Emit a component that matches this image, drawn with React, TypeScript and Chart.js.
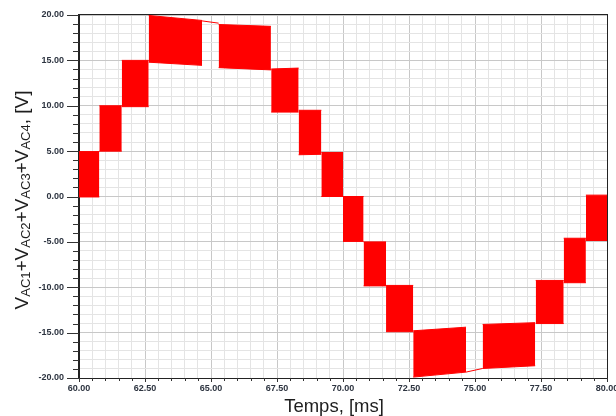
import React, { useEffect, useRef } from 'react';
import { Chart, registerables } from 'chart.js';

Chart.register(...registerables);

// Switching blocks (time in ms, voltage in V): each block switches between a low and a high level
const blockStart = [60.0, 60.77, 61.62, 62.64, 65.29, 67.28, 68.32, 69.18, 70.0, 70.78, 71.63, 72.66, 75.29, 77.3, 78.36, 79.2];
const blockEnd = [60.77, 61.62, 62.64, 64.66, 67.27, 68.32, 69.18, 70.0, 70.78, 71.63, 72.66, 74.66, 77.28, 78.36, 79.2, 80.0];
const blockLowStart = [-0.05, 5.0, 9.9, 14.8, 14.2, 9.3, 4.6, 0.0, -4.95, -9.85, -14.9, -19.9, -18.95, -14.0, -9.5, -4.85];
const blockLowEnd = [-0.05, 5.0, 9.9, 14.45, 13.95, 9.3, 4.65, 0.0, -4.95, -9.85, -14.9, -19.35, -18.65, -14.0, -9.5, -4.85];
const blockHighStart = [4.95, 10.0, 15.0, 19.95, 18.95, 14.05, 9.5, 4.85, 0.0, -5.0, -9.8, -14.8, -14.1, -9.25, -4.6, 0.15];
const blockHighEnd = [4.95, 10.0, 15.0, 19.4, 18.75, 14.15, 9.5, 4.85, 0.0, -5.0, -9.8, -14.4, -13.9, -9.25, -4.6, 0.15];

// Constant-level (no switching) segments between the peak blocks
const holdStart = [64.66, 74.66];
const holdEnd = [65.29, 75.29];
const holdLevelStart = [19.35, -19.35];
const holdLevelEnd = [19.1, -18.95];

// Axis ranges and ticks
const xMin = 60, xMax = 80, xMinorStep = 0.5, xMajorStep = 2.5;
const yMin = -20, yMax = 20, yMinorStep = 1, yMajorStep = 5;

const xTitle = 'Temps, [ms]';
const yTitleParts: { text: string; sub: boolean }[] = [
  { text: 'V', sub: false }, { text: 'AC1', sub: true }, { text: '+', sub: false },
  { text: 'V', sub: false }, { text: 'AC2', sub: true }, { text: '+', sub: false },
  { text: 'V', sub: false }, { text: 'AC3', sub: true }, { text: '+', sub: false },
  { text: 'V', sub: false }, { text: 'AC4', sub: true }, { text: ', [V]', sub: false },
];

const RED = '#ff0000';
const FONT = '"Liberation Sans", Arial, sans-serif';

const isMult = (v: number, step: number) => Math.abs(v / step - Math.round(v / step)) < 1e-6;

const decorPlugin = {
  id: 'decor',
  afterDraw(chart: any) {
    const { ctx, chartArea } = chart;
    const { left, right, top, bottom } = chartArea;
    ctx.save();
    // frame
    ctx.strokeStyle = '#222';
    ctx.lineWidth = 1;
    ctx.strokeRect(Math.round(left) - 0.5, Math.round(top) - 0.5, Math.round(right) - Math.round(left) + 1, Math.round(bottom) - Math.round(top) + 1);
    // y tick marks
    const ys = chart.scales.y;
    ctx.beginPath();
    for (const t of ys.ticks) {
      const py = Math.round(ys.getPixelForValue(t.value)) + 0.5;
      const len = isMult(t.value, yMajorStep) ? 12 : 6;
      ctx.moveTo(Math.round(left) - len, py);
      ctx.lineTo(Math.round(left), py);
    }
    // x tick marks
    const xs = chart.scales.x;
    for (const t of xs.ticks) {
      const px = Math.round(xs.getPixelForValue(t.value)) + 0.5;
      const len = isMult(t.value, xMajorStep) ? 4 : 3;
      ctx.moveTo(px, Math.round(bottom));
      ctx.lineTo(px, Math.round(bottom) + len);
    }
    ctx.strokeStyle = '#333';
    ctx.stroke();

    // x title
    ctx.fillStyle = '#1e1e1e';
    ctx.font = `18.5px ${FONT}`;
    ctx.textAlign = 'center';
    ctx.textBaseline = 'alphabetic';
    ctx.fillText(xTitle, 334, 411.5);

    // y title with subscripts
    const mainFont = `19px ${FONT}`;
    const subFont = `13px ${FONT}`;
    let total = 0;
    const widths = yTitleParts.map((p) => {
      ctx.font = p.sub ? subFont : mainFont;
      const w = ctx.measureText(p.text).width;
      total += w;
      return w;
    });
    ctx.translate(28, 200);
    ctx.rotate(-Math.PI / 2);
    ctx.textAlign = 'left';
    let cx = -total / 2;
    yTitleParts.forEach((p, i) => {
      ctx.font = p.sub ? subFont : mainFont;
      ctx.fillText(p.text, cx, p.sub ? 2 : 0);
      cx += widths[i];
    });
    ctx.restore();
  },
};

export default function App() {
  const ref = useRef<HTMLCanvasElement | null>(null);

  useEffect(() => {
    if (!ref.current) return;
    const datasets: any[] = [];
    for (let i = 0; i < blockStart.length; i++) {
      datasets.push({
        data: [
          { x: blockStart[i], y: blockHighStart[i] },
          { x: blockEnd[i], y: blockHighEnd[i] },
        ],
        borderColor: RED,
        backgroundColor: RED,
        borderWidth: 1,
        pointRadius: 0,
        fill: false,
      });
      datasets.push({
        data: [
          { x: blockStart[i], y: blockLowStart[i] },
          { x: blockEnd[i], y: blockLowEnd[i] },
        ],
        borderColor: RED,
        backgroundColor: RED,
        borderWidth: 1,
        pointRadius: 0,
        fill: '-1',
      });
    }
    for (let i = 0; i < holdStart.length; i++) {
      datasets.push({
        data: [
          { x: holdStart[i], y: holdLevelStart[i] },
          { x: holdEnd[i], y: holdLevelEnd[i] },
        ],
        borderColor: RED,
        borderWidth: 1,
        pointRadius: 0,
        fill: false,
      });
    }

    const tickFont = { family: FONT, size: 9, weight: 'bold' as const };

    const chart = new Chart(ref.current, {
      type: 'line',
      data: { datasets },
      options: {
        animation: false,
        responsive: false,
        maintainAspectRatio: false,
        layout: { padding: { top: 15, right: 9, left: 0, bottom: 0 } },
        plugins: { legend: { display: false }, tooltip: { enabled: false } },
        elements: { line: { tension: 0 } },
        scales: {
          x: {
            type: 'linear',
            min: xMin,
            max: xMax,
            afterFit: (s: any) => {
              s.height = 38;
              s.paddingLeft = 0;
              s.paddingRight = 0;
            },
            ticks: {
              stepSize: xMinorStep,
              autoSkip: false,
              maxRotation: 0,
              minRotation: 0,
              padding: 5,
              color: '#2d3440',
              font: tickFont,
              callback: (v: any) => (isMult(Number(v), xMajorStep) ? Number(v).toFixed(2) : ''),
            },
            grid: {
              drawTicks: false,
              color: (c: any) => (c.tick && isMult(c.tick.value, xMajorStep) ? '#c8c8c8' : '#e4e4e4'),
            },
            border: { display: true, color: '#222' },
          },
          y: {
            type: 'linear',
            min: yMin,
            max: yMax,
            afterFit: (s: any) => {
              s.width = 79;
              s.paddingTop = 0;
              s.paddingBottom = 0;
            },
            ticks: {
              stepSize: yMinorStep,
              autoSkip: false,
              padding: 15,
              color: '#2d3440',
              font: tickFont,
              callback: (v: any) => (isMult(Number(v), yMajorStep) ? Number(v).toFixed(2) : ''),
            },
            grid: {
              drawTicks: false,
              color: (c: any) => (c.tick && isMult(c.tick.value, yMajorStep) ? '#c8c8c8' : '#e4e4e4'),
            },
            border: { display: true, color: '#222' },
          },
        },
      },
      plugins: [decorPlugin],
    });
    return () => chart.destroy();
  }, []);

  return (
    <div style={{ position: 'fixed', left: 0, top: 0, width: 616, height: 416, background: '#fff' }}>
      <canvas ref={ref} width={616} height={416} style={{ width: 616, height: 416, display: 'block' }} />
    </div>
  );
}
